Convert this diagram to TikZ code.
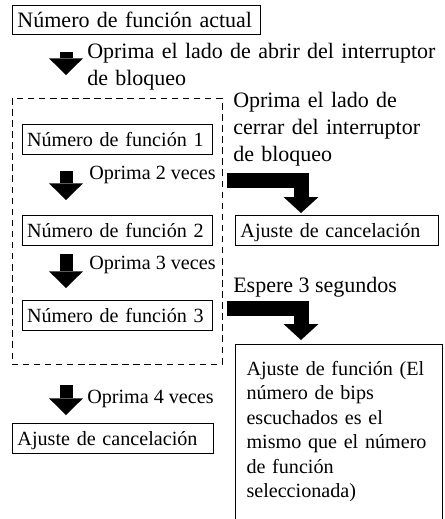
\documentclass[tikz,border=0pt]{standalone}
\usepackage{fontspec}
\setmainfont{Liberation Serif}
\usetikzlibrary{arrows.meta,calc}
\newcommand{\bigfont}{\fontsize{16.5}{20.3}\selectfont}
\newcommand{\smallfont}{\fontsize{15.1}{18.3}\selectfont}
\hyphenpenalty=10000

\begin{document}
\begin{tikzpicture}[
  x=0.75pt, y=-0.75pt,
  every node/.style={inner sep=0pt},
  box/.style     ={draw, line width=0.75pt, anchor=north west, align=left, inner xsep=3.75pt},
  bigbox/.style  ={box, font=\bigfont, text height=16.5pt, text depth=5.25pt},
  smallbox/.style={box, font=\smallfont, text height=16.3pt, text depth=6.2pt},
  note/.style    ={anchor=base west, align=left},
  frame/.style   ={draw, line width=0.75pt, dash pattern=on 4.9pt off 3.4pt},
  down/.style    ={line width=9.75pt, -{Triangle[length=12.5pt, width=25.5pt, line width=0pt]}},
  elbow/.style   ={line width=11.25pt, -{Triangle[length=12pt, width=26.25pt, line width=0pt]}}]

\useasboundingbox (0,0) rectangle (445,519);

% ------------------------- the left column ---------------------------
\node[bigbox, text width=178.5pt] (actual) at (12,5) {Número de función actual};
\node[note, font=\bigfont, text width=300pt] (unlock) at (87,58)
  {Oprima el lado de abrir del interruptor\\de bloqueo};

% the group of function numbers
\draw[frame] (12,98) rectangle (222,364);
\node[smallbox, text width=135.5pt] (fn1) at (21.5,124) {Número de función 1};
\node[smallbox, text width=135.5pt] (fn2) at (21.5,215) {Número de función 2};
\node[smallbox, text width=135.5pt] (fn3) at (21.5,300) {Número de función 3};
\node[note, font=\smallfont] (twice)  at (89,179) {Oprima 2 veces};
\node[note, font=\smallfont] (thrice) at (89,269) {Oprima 3 veces};

\node[note, font=\smallfont] (four) at (87,403) {Oprima 4 veces};
\node[smallbox, text width=143.25pt] (cancelL) at (12,423) {Ajuste de cancelación};

\draw[down] ($(actual.south west)+(54,17)$) -- ($(fn1.north west)+(44.5,-49)$);
\draw[down] ($(fn1.south west)+(44.5,16)$) -- ($(fn2.north west)+(44.5,-15)$);
\draw[down] ($(fn2.south west)+(44.5,8)$) -- ($(fn3.north west)+(44.5,-12)$);
\draw[down] ($(fn3.south west)+(44.5,54)$) -- ($(cancelL.north west)+(54,-8)$);

% ------------------------- the right column --------------------------
\node[note, font=\bigfont, text width=200pt] (lock) at (233,107)
  {Oprima el lado de\\cerrar del interruptor\\de bloqueo};
\node[smallbox, text width=144.75pt] (cancelR) at (235,215) {Ajuste de cancelación};
\node[note, font=\bigfont] (wait) at (233,292) {Espere 3 segundos};
\node[box, font=\smallfont, inner xsep=8.25pt, text width=138.75pt,
      text height=23.25pt, text depth=110.25pt] (fnset) at (235,344)
  {Ajuste de función (El\\número de bips\\escuchados es el\\mismo que el número\\de función\\seleccionada)};

\coordinate (out1) at (227,180.5);
\coordinate (out2) at (227,308.5);
\draw[elbow] (out1) -| ($(cancelR.north west)+(66,-2)$);
\draw[elbow] (out2) -| ($(fnset.north west)+(66,-4)$);

\end{tikzpicture}
\end{document}
